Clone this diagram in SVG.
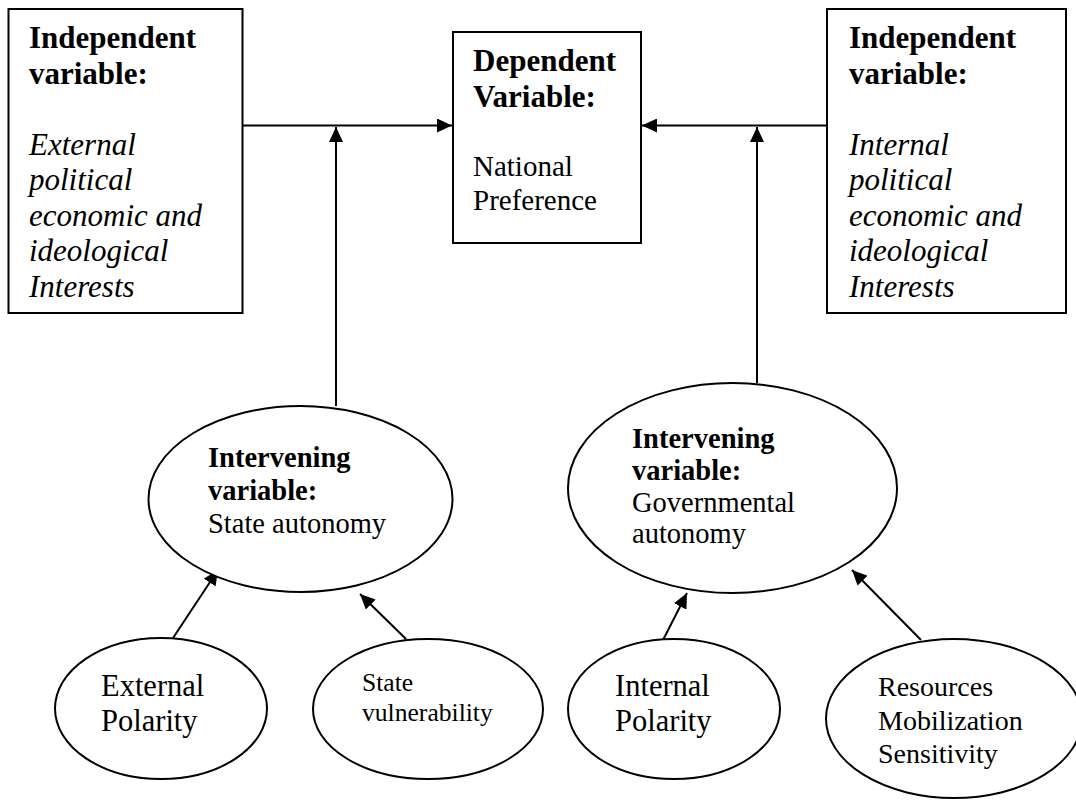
<svg xmlns="http://www.w3.org/2000/svg" width="1076" height="800" viewBox="0 0 1076 800">
  <defs>
    <style>
      .shape { fill: #ffffff; stroke: #000000; stroke-width: 2; }
      .conn { fill: none; stroke: #000000; stroke-width: 2; }
      text { font-family: "Liberation Serif", "Times New Roman", serif; fill: #000000; }
      .b31 { font-size: 31px; font-weight: bold; }
      .i31 { font-size: 31px; font-style: italic; }
      .r29 { font-size: 29px; }
      .b285 { font-size: 28.5px; font-weight: bold; }
      .r285 { font-size: 28.5px; }
      .r305 { font-size: 30.5px; }
      .r256 { font-size: 25.6px; }
      .r28 { font-size: 28px; }
    </style>
    <marker id="arrow" markerUnits="userSpaceOnUse" markerWidth="15" markerHeight="14" refX="15" refY="7" orient="auto">
      <path d="M0,0 L15,7 L0,14 Z" fill="#000000"/>
    </marker>
  </defs>
  <rect width="1076" height="800" fill="#ffffff"/>

  <g id="connectors">
    <line class="conn" x1="243" y1="125.5" x2="452" y2="125.5" marker-end="url(#arrow)"/>
    <line class="conn" x1="336" y1="406" x2="336" y2="127" marker-end="url(#arrow)"/>
    <line class="conn" x1="827" y1="125.5" x2="642" y2="125.5" marker-end="url(#arrow)"/>
    <line class="conn" x1="757" y1="383" x2="757" y2="127" marker-end="url(#arrow)"/>
    <line class="conn" x1="173" y1="638" x2="218" y2="570" marker-end="url(#arrow)"/>
    <line class="conn" x1="406" y1="639" x2="360" y2="594" marker-end="url(#arrow)"/>
    <line class="conn" x1="663" y1="640" x2="687" y2="593" marker-end="url(#arrow)"/>
    <line class="conn" x1="921" y1="640" x2="852" y2="570" marker-end="url(#arrow)"/>
  </g>

  <g id="node-independent-external">
    <rect class="shape" x="8.5" y="9" width="234" height="304"/>
    <text class="b31" x="29" y="48">Independent</text>
    <text class="b31" x="29" y="83.5">variable:</text>
    <text class="i31" x="29" y="154.5">External</text>
    <text class="i31" x="29" y="190">political</text>
    <text class="i31" x="29" y="225.5">economic and</text>
    <text class="i31" x="29" y="261">ideological</text>
    <text class="i31" x="29" y="296.5">Interests</text>
  </g>

  <g id="node-dependent">
    <rect class="shape" x="453" y="32" width="188" height="211"/>
    <text class="b31" x="473" y="71">Dependent</text>
    <text class="b31" x="473" y="106.5">Variable:</text>
    <text class="r29" x="473" y="176">National</text>
    <text class="r29" x="473" y="210">Preference</text>
  </g>

  <g id="node-independent-internal">
    <rect class="shape" x="827" y="9" width="239" height="304"/>
    <text class="b31" x="849" y="48">Independent</text>
    <text class="b31" x="849" y="83.5">variable:</text>
    <text class="i31" x="849" y="154.5">Internal</text>
    <text class="i31" x="849" y="190">political</text>
    <text class="i31" x="849" y="225.5">economic and</text>
    <text class="i31" x="849" y="261">ideological</text>
    <text class="i31" x="849" y="296.5">Interests</text>
  </g>

  <g id="node-state-autonomy">
    <ellipse class="shape" cx="300.5" cy="499" rx="152" ry="93"/>
    <text class="b285" x="208" y="467">Intervening</text>
    <text class="b285" x="208" y="500">variable:</text>
    <text class="r285" x="208" y="533">State autonomy</text>
  </g>

  <g id="node-governmental-autonomy">
    <ellipse class="shape" cx="732.5" cy="488" rx="164.5" ry="105"/>
    <text class="b285" x="632" y="448">Intervening</text>
    <text class="b285" x="632" y="480">variable:</text>
    <text class="r285" x="632" y="512">Governmental</text>
    <text class="r285" x="632" y="543">autonomy</text>
  </g>

  <g id="node-external-polarity">
    <ellipse class="shape" cx="161" cy="708.5" rx="106" ry="70.5"/>
    <text class="r305" x="101" y="696">External</text>
    <text class="r305" x="101" y="731">Polarity</text>
  </g>

  <g id="node-state-vulnerability">
    <ellipse class="shape" cx="428" cy="709" rx="115" ry="70"/>
    <text class="r256" x="362" y="691">State</text>
    <text class="r256" x="362" y="721">vulnerability</text>
  </g>

  <g id="node-internal-polarity">
    <ellipse class="shape" cx="674" cy="709" rx="106" ry="70"/>
    <text class="r305" x="615" y="696">Internal</text>
    <text class="r305" x="615" y="731">Polarity</text>
  </g>

  <g id="node-resources">
    <ellipse class="shape" cx="954" cy="718.5" rx="128" ry="79.5"/>
    <text class="r28" x="878" y="696">Resources</text>
    <text class="r28" x="878" y="730">Mobilization</text>
    <text class="r28" x="878" y="763">Sensitivity</text>
  </g>
</svg>
